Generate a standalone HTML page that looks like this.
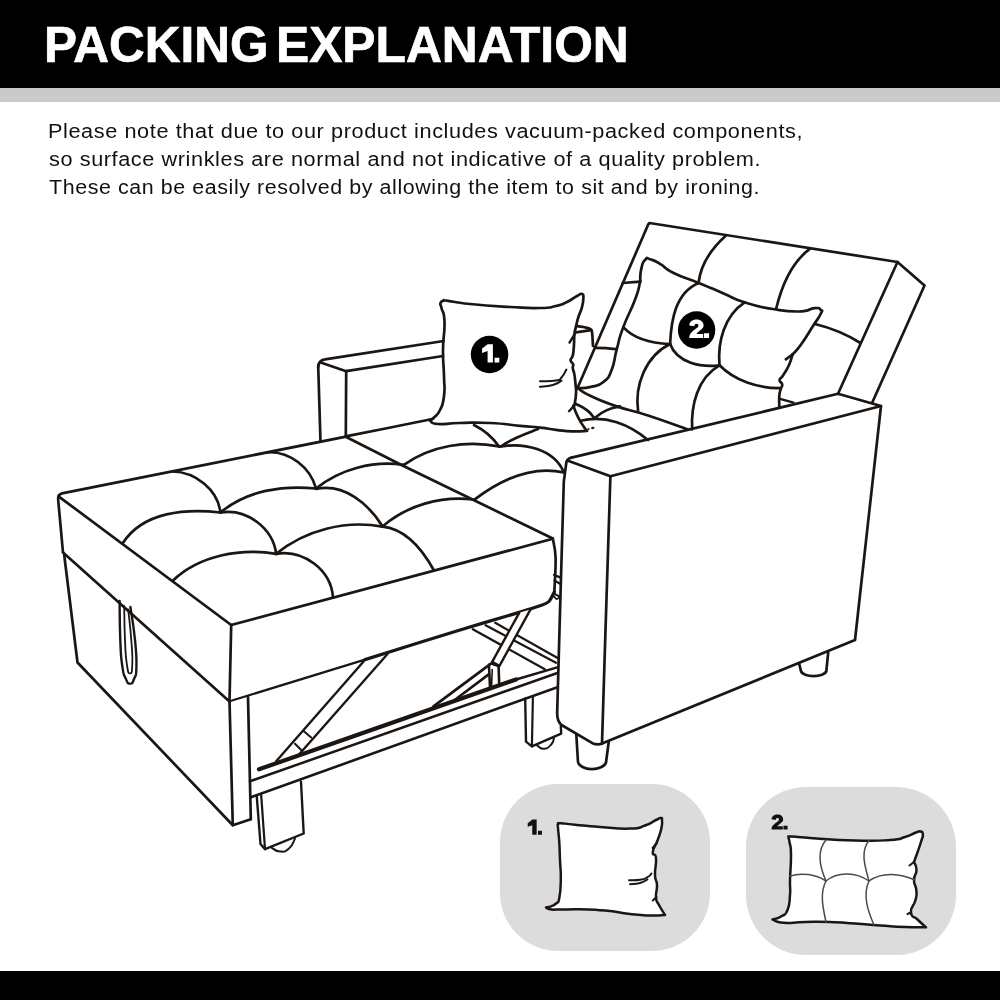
<!DOCTYPE html>
<html><head><meta charset="utf-8"><title>Packing Explanation</title>
<style>
html,body{margin:0;padding:0;background:#fff;}
body{width:1000px;height:1000px;position:relative;overflow:hidden;font-family:"Liberation Sans",sans-serif;}
.hdr{position:absolute;left:0;top:0;width:1000px;height:88px;background:#000;}
.gry{position:absolute;left:0;top:88px;width:1000px;height:14px;background:#cacaca;}
.ftr{position:absolute;left:0;top:971px;width:1000px;height:29px;background:#000;}
.title{position:absolute;left:44.2px;top:18.15px;margin:0;color:#fff;font-weight:bold;font-size:49.2px;line-height:54px;white-space:nowrap;letter-spacing:0;transform-origin:0 0;transform:scaleX(1.018);-webkit-text-stroke:0.7px #fff;}
.txt{position:absolute;left:48.5px;margin:0;color:#111;font-size:20px;line-height:28px;white-space:nowrap;letter-spacing:0.55px;transform-origin:0 0;will-change:transform;}
svg{position:absolute;left:0;top:0;}
.lbl{font-family:"Liberation Sans",sans-serif;font-weight:bold;}
</style></head><body>
<div class="hdr"></div><div class="gry"></div>
<h1 class="title" id="title" style="transform:scaleX(1.0058)">PACKING</h1><h1 class="title" id="title2" style="left:275.5px;transform:scaleX(1.0112)">EXPLANATION</h1>
<p class="txt" id="l1" style="top:117px;left:48px;transform:scaleX(1.0838)">Please note that due to our product includes vacuum-packed components,</p>
<p class="txt" id="l2" style="top:145.4px;transform:scaleX(1.0836)">so surface wrinkles are normal and not indicative of a quality problem.</p>
<p class="txt" id="l3" style="top:173.4px;transform:scaleX(1.0703)">These can be easily resolved by allowing the item to sit and by ironing.</p>
<svg width="1000" height="1000" viewBox="0 0 1000 1000" stroke-linecap="round" stroke-linejoin="round">
<rect x="500" y="784" width="210" height="167" rx="58" ry="58" fill="#dcdcdc"/>
<rect x="746" y="787" width="210" height="168" rx="60" ry="60" fill="#dcdcdc"/>
<path d="M577.5,388.0 L648.2,224.5 L649.5,223.0 L897.5,262.0 L924.5,285.5 L872.5,402.0" fill="none" stroke="#1c1613" stroke-width="2.7" />
<path d="M897.5,262.0 L838.0,393.8" fill="none" stroke="#1c1613" stroke-width="2.7" />
<path d="M725.5,236.0 C712.2,248.0 701.0,263.8 698.7,282.0" fill="none" stroke="#1c1613" stroke-width="2.7" />
<path d="M809.5,249.2 C790.5,263.4 781.6,286.4 776.2,308.5" fill="none" stroke="#1c1613" stroke-width="2.7" />
<path d="M815.0,324.0 C831.0,327.9 846.5,334.2 860.5,343.0" fill="none" stroke="#1c1613" stroke-width="2.7" />
<path d="M622.8,283.0 L640.2,281.6" fill="none" stroke="#1c1613" stroke-width="2.7" />
<path d="M595.0,347.9 C596.8,347.9 602.4,348.0 606.0,348.2 C609.6,348.4 615.0,349.0 616.8,349.2" fill="none" stroke="#1c1613" stroke-width="2.7" />
<path d="M571.5,457.6 L838.0,393.8 L881.0,406.0 L610.4,476.3" fill="none" stroke="#1c1613" stroke-width="2.7" />
<path d="M567.4,460.6 L610.4,476.3" fill="none" stroke="#1c1613" stroke-width="2.7" />
<path d="M571.5,457.6 Q566.6,458.6 566.2,463.5 L563.75,482 L563.8,482.0 C563.0,506.7 560.6,591.7 559.5,630.0 C558.4,668.3 557.6,698.3 557.2,712.0 Q556.8,721 561.5,725 L592.4,743.2 Q597,745 602,743.8" fill="none" stroke="#1c1613" stroke-width="2.7" />
<path d="M610.4,476.3 L605.5,630.0 L602.0,743.5" fill="none" stroke="#1c1613" stroke-width="2.7" />
<path d="M602.0,743.6 L855.0,640.0 L881.0,406.0" fill="none" stroke="#1c1613" stroke-width="2.7" />
<path d="M576.3,734.5 L578,762 A14.2,8.2 0 0 0 606,762.5 L608.8,741.5" fill="none" stroke="#1c1613" stroke-width="2.7" />
<path d="M799.2,663.8 L801,671.3 A12.8,5.6 0 0 0 826.3,671.3 L828.2,652.3" fill="none" stroke="#1c1613" stroke-width="2.7" />
<path d="M318.2,367 Q318.3,360.5 325,359.3 L443.6,341" fill="none" stroke="#1c1613" stroke-width="2.7" />
<path d="M320.0,362.3 L346.2,371.2 L443.0,356.0" fill="none" stroke="#1c1613" stroke-width="2.7" />
<path d="M318.2,366.0 L320.5,441.5" fill="none" stroke="#1c1613" stroke-width="2.7" />
<path d="M346.2,371.2 L345.8,436.4" fill="none" stroke="#1c1613" stroke-width="2.7" />
<path d="M345.8,436.4 C353.9,434.8 418.8,421.8 427.5,420.0 C436.2,418.2 432.0,418.9 432.5,418.8" fill="none" stroke="#1c1613" stroke-width="2.7" />
<path d="M576.0,326.0 C578.0,326.3 583.1,327.0 586.0,327.6 C588.9,328.2 589.3,328.3 590.5,329.2 C591.7,330.1 591.5,328.6 592.0,332.0 C592.5,335.4 592.8,343.2 593.0,346.0" fill="none" stroke="#1c1613" stroke-width="2.7" />
<path d="M576.0,332.4 L591.0,330.2" fill="none" stroke="#1c1613" stroke-width="2.7" />
<path d="M63,552.5 L58.2,500 Q57.6,494.6 62,493.4 L346,436.6" fill="none" stroke="#1c1613" stroke-width="2.7" />
<path d="M346.2,437.0 L402.5,465.5 L472.5,499.5 L552.8,538.5" fill="none" stroke="#1c1613" stroke-width="2.7" />
<path d="M58.5,496.3 L231.2,625.0 L552.8,538.8" fill="none" stroke="#1c1613" stroke-width="2.7" />
<path d="M63.0,552.5 L229.5,701.4" fill="none" stroke="#1c1613" stroke-width="2.7" />
<path d="M231.2,625.0 L229.5,701.4" fill="none" stroke="#1c1613" stroke-width="2.7" />
<path d="M229.5,701.3 L365.0,659.6" fill="none" stroke="#1c1613" stroke-width="2.2" />
<path d="M365.0,659.6 C376.1,656.1 442.0,635.5 460.0,630.0 C478.0,624.5 509.9,615.2 519.2,612.4 C528.5,609.6 536.5,607.1 540.0,605.8 C543.5,604.5 547.3,602.9 549.0,601.3 C550.7,599.7 553.7,593.1 554.3,592.0" fill="none" stroke="#1c1613" stroke-width="3.2" />
<path d="M552.8,538.6 C553.4,542.5 555.3,547.3 555.6,558.0 C555.9,568.7 554.6,585.2 554.3,592.0" fill="none" stroke="#1c1613" stroke-width="2.7" />
<path d="M172.5,471.5 C195.2,472.0 217.7,489.2 220.5,512.5" fill="none" stroke="#1c1613" stroke-width="2.7" />
<path d="M122.5,543.5 C143.1,511.1 186.7,508.5 220.5,512.5" fill="none" stroke="#1c1613" stroke-width="2.7" />
<path d="M220.5,512.5 C246.8,490.3 282.8,485.2 316.0,488.5" fill="none" stroke="#1c1613" stroke-width="2.7" />
<path d="M220.5,512.5 C246.4,508.0 272.8,528.0 276.2,553.8" fill="none" stroke="#1c1613" stroke-width="2.7" />
<path d="M172.5,581.0 C199.5,555.0 240.4,548.2 276.2,553.8" fill="none" stroke="#1c1613" stroke-width="2.7" />
<path d="M276.2,553.8 C305.4,529.8 345.5,519.9 382.5,526.6" fill="none" stroke="#1c1613" stroke-width="2.7" />
<path d="M276.2,553.8 C303.2,549.1 331.2,569.8 333.0,597.5" fill="none" stroke="#1c1613" stroke-width="2.7" />
<path d="M268.0,452.3 C290.2,451.5 310.5,467.7 316.0,488.5" fill="none" stroke="#1c1613" stroke-width="2.7" />
<path d="M316.0,488.5 C340.2,469.0 372.7,460.4 403.5,464.8" fill="none" stroke="#1c1613" stroke-width="2.7" />
<path d="M316.0,489.0 C344.6,483.1 368.7,504.2 382.5,526.3" fill="none" stroke="#1c1613" stroke-width="2.7" />
<path d="M382.5,526.5 C407.0,505.2 440.9,495.9 473.0,499.5" fill="none" stroke="#1c1613" stroke-width="2.7" />
<path d="M382.5,526.6 C407.3,529.1 423.1,550.6 434.0,570.5" fill="none" stroke="#1c1613" stroke-width="2.7" />
<path d="M403.8,464.8 C431.1,445.5 466.4,440.0 499.0,446.4" fill="none" stroke="#1c1613" stroke-width="2.7" />
<path d="M474.0,425.0 C483.9,430.0 492.8,437.3 499.0,446.5" fill="none" stroke="#1c1613" stroke-width="2.7" />
<path d="M500.5,446.5 C505.7,443.7 503.5,443.8 516.0,438.0 C528.5,432.2 530.7,432.0 538.0,429.0" fill="none" stroke="#1c1613" stroke-width="2.7" />
<path d="M501.0,446.5 C523.6,442.5 553.8,448.7 563.7,472.0" fill="none" stroke="#1c1613" stroke-width="2.7" />
<path d="M474.4,499.6 C499.4,480.6 531.5,465.2 563.7,472.4" fill="none" stroke="#1c1613" stroke-width="2.7" />
<path d="M576.0,404.0 C579.7,406.1 581.1,405.6 587.2,410.4 C593.3,415.2 592.0,415.7 594.4,418.4" fill="none" stroke="#1c1613" stroke-width="2.7" />
<path d="M594.4,418.4 C598.4,415.7 597.9,414.4 606.4,410.4 C614.9,406.4 615.5,407.7 620.0,406.4" fill="none" stroke="#1c1613" stroke-width="2.7" />
<path d="M580.8,420.8 C605.0,414.4 629.8,424.6 648.0,440.0" fill="none" stroke="#1c1613" stroke-width="2.7" />
<path d="M64.2,555.0 L77.5,662.5 L232.8,825.2 L250.8,819.2" fill="none" stroke="#1c1613" stroke-width="2.7" />
<path d="M229.5,701.2 L232.8,825.2" fill="none" stroke="#1c1613" stroke-width="2.7" />
<path d="M248.0,697.0 L250.8,819.2" fill="none" stroke="#1c1613" stroke-width="2.7" />
<path d="M119.6,601.0 C119.8,612.7 119.5,620.5 120.3,640.0 C121.1,659.5 120.7,654.6 122.3,666.0 C123.9,677.4 123.2,672.7 125.5,678.0 C127.8,683.3 127.4,683.5 130.0,683.6 C132.6,683.8 132.3,683.5 134.2,678.5 C136.1,673.5 136.2,678.5 136.4,667.0 C136.6,655.5 136.8,658.0 135.0,640.0 C133.2,622.0 131.8,616.9 130.4,607.0" fill="none" stroke="#1c1613" stroke-width="2.4" />
<path d="M124.2,606.0 C124.4,616.2 124.2,622.6 125.0,640.0 C125.8,657.4 125.3,654.0 126.8,664.0 C128.3,674.0 128.3,673.3 130.0,673.3 C131.7,673.3 131.9,674.0 132.3,664.0 C132.7,654.0 132.5,656.4 131.3,640.0 C130.1,623.6 129.1,618.6 128.2,609.5" fill="none" stroke="#1c1613" stroke-width="1.8" />
<path d="M640.2,281.6 C640.5,277.7 639.7,275.2 641.3,268.6 C642.9,262.0 642.8,262.3 645.4,259.5 C648.0,256.7 645.6,258.0 650.0,259.3 C654.4,260.6 652.9,259.6 660.0,263.8 C667.1,267.9 662.0,267.3 673.6,273.0 C685.2,278.7 684.0,276.9 698.7,282.9 C713.4,288.9 708.7,287.1 722.5,293.0 C736.3,298.9 729.6,297.6 744.7,302.4 C759.8,307.2 756.6,306.3 772.8,309.0 C789.0,311.7 786.3,311.7 798.8,311.5 C811.3,311.3 807.9,308.7 814.4,308.2 C820.9,307.7 818.7,308.1 820.6,309.8 C822.5,311.5 822.9,309.1 820.6,314.0 C818.3,318.9 818.8,317.0 813.0,326.0 C807.2,335.0 807.5,335.4 801.4,344.0 C795.2,352.6 795.2,351.4 792.5,354.5" fill="none" stroke="#1c1613" stroke-width="2.7" />
<path d="M792.5,354.5 C791.5,357.6 791.8,358.8 789.0,365.0 C786.2,371.2 786.0,370.6 783.2,375.2 C780.4,379.8 779.9,377.5 779.6,380.2 C779.3,382.9 781.9,381.5 782.2,384.3 C782.5,387.1 781.5,386.0 780.6,389.5 C779.7,393.0 779.7,390.9 779.3,396.0 C778.9,401.1 779.3,403.4 779.3,406.6" fill="none" stroke="#1c1613" stroke-width="2.7" />
<path d="M792.5,354.5 L785.8,359.3" fill="none" stroke="#1c1613" stroke-width="2.7" />
<path d="M640.2,281.6 C638.6,287.1 640.1,286.2 635.0,299.8 C629.9,313.4 628.8,312.3 623.3,327.1 C617.8,341.9 620.3,336.3 616.8,349.2 C613.3,362.1 615.5,360.2 611.6,370.0 C607.7,379.8 610.0,376.6 603.8,381.7 C597.6,386.8 598.6,384.9 590.8,386.9 C583.0,388.8 581.7,387.8 577.8,388.2" fill="none" stroke="#1c1613" stroke-width="2.7" />
<path d="M577.8,388.2 C581.3,390.3 580.4,391.1 590.8,396.0 C601.2,400.9 601.5,401.2 616.8,406.4 C632.1,411.6 629.0,409.3 648.0,415.5 C667.0,421.7 677.3,425.8 688.0,429.5" fill="none" stroke="#1c1613" stroke-width="2.7" />
<path d="M623.3,327.1 C635.1,340.3 653.4,343.3 670.1,344.0" fill="none" stroke="#1c1613" stroke-width="2.7" />
<path d="M670.1,344.0 C677.2,363.4 701.5,367.4 719.5,365.3" fill="none" stroke="#1c1613" stroke-width="2.7" />
<path d="M719.5,365.3 C735.1,381.0 757.6,388.1 779.3,388.2" fill="none" stroke="#1c1613" stroke-width="2.7" />
<path d="M698.7,282.9 C674.8,292.9 671.1,321.5 670.1,344.0" fill="none" stroke="#1c1613" stroke-width="2.7" />
<path d="M744.7,302.4 C724.2,315.8 717.4,342.2 719.5,365.3" fill="none" stroke="#1c1613" stroke-width="2.7" />
<path d="M670.1,344.0 C645.5,355.9 634.4,385.7 638.1,411.5" fill="none" stroke="#1c1613" stroke-width="2.7" />
<path d="M719.5,365.3 C697.3,377.9 690.8,405.7 692.2,429.3" fill="none" stroke="#1c1613" stroke-width="2.7" />
<circle cx="696.6" cy="330" r="18.7" fill="#000"/>
<path d="M430.0,420.5 C431.2,419.6 431.0,420.6 434.0,417.5 C437.0,414.4 437.0,416.4 440.0,410.0 C443.0,403.6 442.8,406.2 444.0,396.0 C445.2,385.8 444.3,389.8 444.0,376.0 C443.7,362.2 442.9,366.2 443.0,350.0 C443.1,333.8 444.9,334.6 444.5,322.0 C444.1,309.4 442.7,313.6 441.5,308.0 C440.3,302.4 439.9,305.4 440.5,303.2 C441.1,301.0 441.2,301.5 443.5,300.8 C445.8,300.1 440.1,299.8 448.0,300.8 C455.9,301.8 451.4,302.1 470.0,304.0 C488.6,305.9 489.0,305.8 510.0,307.0 C531.0,308.2 526.2,308.3 540.0,308.0 C553.8,307.7 547.9,307.8 556.0,306.0 C564.1,304.2 560.7,305.0 567.0,302.0 C573.3,299.0 572.5,298.4 577.0,296.0 C581.5,293.6 580.0,293.5 581.9,294.0 C583.8,294.5 583.4,293.8 583.4,297.8 C583.4,301.8 583.4,301.6 581.9,307.4 C580.4,313.2 580.2,311.2 578.4,317.0 C576.6,322.8 577.2,321.3 576.0,326.6 C574.8,331.9 575.0,328.8 574.4,334.6 C573.8,340.4 574.4,339.6 573.9,345.8 C573.4,352.0 573.8,351.1 572.8,355.4 C571.8,359.7 570.5,357.6 570.6,360.2 C570.7,362.8 572.4,361.8 573.1,364.2 C573.8,366.6 572.4,365.1 572.8,368.2 C573.2,371.3 573.6,369.8 574.4,374.6 C575.2,379.4 575.0,378.4 575.5,384.2 C576.0,390.0 576.3,387.6 576.0,393.8 C575.7,400.0 575.1,401.0 574.4,405.0 C573.7,409.0 572.6,403.2 573.8,407.0 C575.0,410.8 575.1,411.4 578.4,417.8 C581.7,424.2 582.2,424.4 584.8,428.2 C587.4,432.0 586.3,429.9 587.0,430.6" fill="none" stroke="#1c1613" stroke-width="2.7" />
<path d="M574.4,334.6 L569.5,342.6" fill="none" stroke="#1c1613" stroke-width="2.4" />
<path d="M574.2,405.6 L569.0,411.2" fill="none" stroke="#1c1613" stroke-width="2.4" />
<path d="M587.0,430.8 C582.5,431.0 581.3,431.7 572.0,431.4 C562.7,431.1 565.6,430.9 556.0,429.8 C546.4,428.7 550.8,428.8 540.0,427.6 C529.2,426.4 535.0,427.2 520.0,425.8 C505.0,424.4 508.0,423.8 490.0,423.0 C472.0,422.2 475.6,422.7 460.0,423.0 C444.4,423.3 447.0,424.8 438.0,424.0 C429.0,423.2 432.4,421.6 430.0,420.5" fill="none" stroke="#1c1613" stroke-width="2.7" />
<path d="M540.0,381.2 C544.8,381.0 549.5,381.6 556.0,380.5 C562.5,379.4 558.4,380.8 561.5,377.5 C564.6,374.2 564.9,371.9 566.4,369.5" fill="none" stroke="#1c1613" stroke-width="2.0" />
<path d="M540.0,386.8 C543.8,386.3 546.3,386.8 552.8,385.0 C559.3,383.2 559.0,382.0 561.6,380.7" fill="none" stroke="#1c1613" stroke-width="2.0" />
<path d="M588.4,429.0 L588.8,428.9" fill="none" stroke="#1c1613" stroke-width="1.6" />
<path d="M592.2,428.1 L593.4,427.8" fill="none" stroke="#1c1613" stroke-width="2.2" />
<circle cx="489.55" cy="354.55" r="18.75" fill="#000"/>
<path d="M472.8,629.2 L544.8,669.2" fill="none" stroke="#1c1613" stroke-width="2.2" />
<path d="M485.6,625.2 L556.0,662.8" fill="none" stroke="#1c1613" stroke-width="2.2" />
<path d="M495.2,622.8 L557.6,658.0" fill="none" stroke="#1c1613" stroke-width="2.2" />
<path d="M519.2,612.8 L491.2,663.6 L499.2,666.4 L530.4,609.6" fill="#fff" stroke="#1c1613" stroke-width="2.4" />
<path d="M259.0,769.3 L516.0,679.5" fill="none" stroke="#1c1613" stroke-width="4.2" />
<path d="M516.0,679.5 L557.2,667.4" fill="none" stroke="#1c1613" stroke-width="2.4" />
<path d="M250.0,781.3 L557.4,673.0" fill="none" stroke="#1c1613" stroke-width="2.5" />
<path d="M251.0,797.2 L557.4,687.2" fill="none" stroke="#1c1613" stroke-width="2.6" />
<path d="M276.2,761.2 L363.8,661.2" fill="none" stroke="#1c1613" stroke-width="2.4" />
<path d="M297.5,756.2 L387.5,654.0" fill="none" stroke="#1c1613" stroke-width="2.4" />
<path d="M303.8,731.2 L311.2,737.5" fill="none" stroke="#1c1613" stroke-width="2.0" />
<path d="M295.0,743.8 L301.2,750.0" fill="none" stroke="#1c1613" stroke-width="2.0" />
<path d="M489.0,666.0 L490.0,687.0" fill="none" stroke="#1c1613" stroke-width="2.6" />
<path d="M498.6,667.0 L499.2,683.8" fill="none" stroke="#1c1613" stroke-width="2.6" />
<path d="M492.2,669.5 L491.6,686.2" fill="none" stroke="#1c1613" stroke-width="1.6" />
<path d="M489.0,664.5 L493.5,662.6 L499.0,665.5" fill="none" stroke="#1c1613" stroke-width="2.4" />
<path d="M489.6,664.6 L433.5,706.4" fill="none" stroke="#1c1613" stroke-width="2.8" />
<path d="M488.4,674.6 L453.0,701.2" fill="none" stroke="#1c1613" stroke-width="2.6" />
<path d="M256.8,796.8 L260.5,844.0 L265.0,849.2 L303.7,833.5 L301.0,781.8" fill="none" stroke="#1c1613" stroke-width="2.4" />
<path d="M261.2,795.2 L265.0,849.2" fill="none" stroke="#1c1613" stroke-width="2.2" />
<path d="M271.8,847.8 C274.2,848.9 274.8,851.3 280.0,851.5 C285.2,851.7 284.5,852.3 289.0,848.5 C293.5,844.7 293.2,841.7 295.0,838.8" fill="none" stroke="#1c1613" stroke-width="2.0" />
<path d="M525.2,698.4 L526.0,741.6 L531.9,746.4 L561.2,733.6 L560.8,726.0" fill="none" stroke="#1c1613" stroke-width="2.4" />
<path d="M532.9,697.6 L531.9,746.4" fill="none" stroke="#1c1613" stroke-width="2.2" />
<path d="M537.2,745.6 C539.4,746.6 540.1,749.3 544.4,748.8 C548.7,748.3 548.7,747.4 551.6,744.0 C554.5,740.6 553.3,739.5 554.0,737.6" fill="none" stroke="#1c1613" stroke-width="2.0" />
<path d="M554.0,575.0 L560.2,577.4" fill="none" stroke="#1c1613" stroke-width="2.2" />
<path d="M554.4,580.4 L560.0,583.7" fill="none" stroke="#1c1613" stroke-width="2.2" />
<path d="M553.6,593.4 L559.6,596.6" fill="none" stroke="#1c1613" stroke-width="2.2" />
<path d="M554.0,596.5 C554.4,596.9 555.6,598.8 556.5,599.0 C557.4,599.2 558.9,597.8 559.4,597.5" fill="none" stroke="#1c1613" stroke-width="1.8" />
<path d="M546.0,907.5 C547.5,907.1 548.0,907.5 551.0,906.3 C554.0,905.1 553.5,906.0 556.0,903.5 C558.5,901.0 557.9,905.0 559.3,898.0 C560.7,891.0 560.6,891.4 560.8,880.0 C561.0,868.6 560.5,871.2 560.0,860.0 C559.5,848.8 559.9,852.1 559.3,842.5 C558.7,832.9 558.3,833.5 558.0,828.0 C557.7,822.5 557.3,825.7 558.2,824.3 C559.1,822.9 556.0,823.1 561.0,823.2 C566.0,823.4 563.3,823.7 575.0,824.8 C586.7,825.9 583.5,825.9 600.0,827.0 C616.5,828.1 616.5,829.1 630.0,828.6 C643.5,828.1 637.2,828.1 645.0,825.5 C652.8,822.9 651.4,822.2 656.0,820.0 C660.6,817.8 658.7,817.9 660.5,818.0 C662.3,818.1 661.9,816.9 662.0,820.5 C662.1,824.1 662.6,823.2 661.0,830.0 C659.4,836.8 657.9,839.1 656.5,843.0L656.5,843.0 C655.4,845.9 652.9,848.0 652.8,852.5 C652.6,857.0 655.3,851.2 656.0,858.0 C656.7,864.8 654.7,866.9 655.0,875.0 C655.3,883.1 656.7,878.2 657.0,885.0 C657.3,891.8 655.4,891.5 656.0,897.5 C656.6,903.5 656.3,899.8 659.0,905.0 C661.7,910.2 663.2,912.0 665.0,915.0L665.0,915.0 C660.5,915.1 660.5,915.8 650.0,915.5 C639.5,915.2 643.5,915.5 630.0,914.0 C616.5,912.5 620.0,911.9 605.0,910.5 C590.0,909.1 593.5,909.6 580.0,909.3 C566.5,909.0 569.0,909.6 560.0,909.6 C551.0,909.6 554.2,909.8 550.0,909.2 C545.8,908.6 547.2,908.0 546.0,907.5Z" fill="#fff" stroke="#1c1613" stroke-width="2.5" />
<path d="M656.5,843.5 L652.6,848.0" fill="none" stroke="#1c1613" stroke-width="2.0" />
<path d="M656.5,897.0 L652.8,900.5" fill="none" stroke="#1c1613" stroke-width="2.0" />
<path d="M629.0,880.3 C632.3,880.1 634.5,880.7 640.0,879.8 C645.5,878.9 644.0,879.1 647.5,877.2 C651.0,875.3 650.3,874.6 651.5,873.5" fill="none" stroke="#1c1613" stroke-width="1.9" />
<path d="M630.0,884.2 C633.0,883.8 634.8,884.4 640.0,883.0 C645.2,881.6 645.2,880.5 647.5,879.4" fill="none" stroke="#1c1613" stroke-width="1.9" />
<path d="M772.5,919.5 C775.0,918.6 776.5,919.4 781.0,916.5 C785.5,913.6 784.8,916.5 787.5,910.0 C790.2,903.5 789.2,904.0 790.0,895.0 C790.8,886.0 789.7,892.0 790.0,880.0 C790.3,868.0 791.1,866.4 791.0,855.0 C790.9,843.6 790.2,847.2 789.5,842.0 C788.8,836.8 788.0,839.1 788.8,837.5 C789.5,835.9 785.6,836.5 792.0,836.6 C798.4,836.8 791.1,836.8 810.0,838.0 C828.9,839.2 831.0,839.9 855.0,840.5 C879.0,841.1 875.0,841.0 890.0,840.0 C905.0,839.0 897.2,839.2 905.0,837.0 C912.8,834.8 911.4,834.1 916.0,832.5 C920.6,830.9 918.5,831.0 920.5,831.5 C922.5,832.0 922.6,830.9 922.8,834.0 C922.9,837.1 923.6,833.6 921.0,842.0 C918.4,850.4 916.1,856.0 914.0,862.0L914.0,862.0 C914.8,864.4 916.5,864.6 916.5,870.0 C916.5,875.4 914.1,874.0 914.0,880.0 C913.9,886.0 915.8,884.0 916.3,890.0 C916.8,896.0 917.1,893.2 915.5,900.0 C913.9,906.8 910.2,906.5 911.0,912.5 C911.8,918.5 913.5,915.6 918.0,920.0 C922.5,924.4 923.6,925.1 926.0,927.3L926.0,927.3 C919.7,927.2 918.8,927.5 905.0,927.0 C891.2,926.5 895.0,926.5 880.0,925.5 C865.0,924.5 870.0,924.5 855.0,923.5 C840.0,922.5 845.0,922.5 830.0,922.0 C815.0,921.5 818.8,921.8 805.0,922.0 C791.2,922.2 793.8,923.5 784.0,922.8 C774.2,922.0 776.0,920.5 772.5,919.5Z" fill="#fff" stroke="#1c1613" stroke-width="2.5" />
<path d="M914.0,862.0 L909.5,865.5" fill="none" stroke="#1c1613" stroke-width="2.0" />
<path d="M911.0,912.5 L907.5,914.0" fill="none" stroke="#1c1613" stroke-width="2.0" />
<path d="M790.0,876.0 C801.9,872.2 815.5,874.4 826.0,881.0" fill="none" stroke="#4a4a4a" stroke-width="1.5" />
<path d="M826.0,881.0 C838.1,870.9 856.6,872.4 869.0,881.0" fill="none" stroke="#4a4a4a" stroke-width="1.5" />
<path d="M869.0,881.0 C882.5,871.2 900.7,873.7 915.0,880.0" fill="none" stroke="#4a4a4a" stroke-width="1.5" />
<path d="M826.0,840.0 C816.0,851.7 820.4,868.4 826.0,881.0" fill="none" stroke="#4a4a4a" stroke-width="1.5" />
<path d="M826.0,881.0 C819.4,893.7 823.2,908.8 826.0,922.0" fill="none" stroke="#4a4a4a" stroke-width="1.5" />
<path d="M869.0,840.5 C859.6,852.3 865.6,868.2 869.0,881.0" fill="none" stroke="#4a4a4a" stroke-width="1.5" />
<path d="M869.0,881.0 C862.2,895.3 868.2,911.5 874.0,925.0" fill="none" stroke="#4a4a4a" stroke-width="1.5" />
<path d="M780.0,398.8 L793.5,402.6" fill="none" stroke="#1c1613" stroke-width="2.4" />
<path d="M0,0 L13.9,0 L13.9,-4.1 L7,-4.1 C8.7,-5.8 11,-7.6 12.5,-9 C13.7,-10.1 14.4,-11.2 14.3,-12.8 C14.2,-16.1 11.5,-18.6 7.3,-18.6 C2.9,-18.6 0.2,-16.3 0,-12.7 L5.1,-11.9 C5.2,-13.5 5.9,-14.3 7.3,-14.3 C8.5,-14.3 9.1,-13.5 9.1,-12.5 C9.1,-11.4 8.4,-10.7 7.5,-10 C5.2,-8.3 2.9,-6.5 1.3,-4.7 C0.4,-3.6 0,-2.5 0,-1.3 Z M14.7,0 L19.8,0 L19.8,-4.8 L14.7,-4.8 Z" transform="translate(689.3,338.1) scale(1.0)" fill="#fff" stroke="none"/>
<path d="M10.8,-18.3 L5.6,-18.3 L0,-14 L0,-9.6 L5.5,-11.6 L5.5,0 L10.8,0 Z M12.4,0 L17.2,0 L17.2,-4.8 L12.4,-4.8 Z" transform="translate(482.1,362.5) scale(1.0)" fill="#fff" stroke="none"/>
<path d="M10.8,-18.3 L5.6,-18.3 L0,-14 L0,-9.6 L5.5,-11.6 L5.5,0 L10.8,0 Z M12.4,0 L17.2,0 L17.2,-4.8 L12.4,-4.8 Z" transform="translate(527.7,834.8) scale(0.83)" fill="#111" stroke="none"/>
<path d="M0,0 L13.9,0 L13.9,-4.1 L7,-4.1 C8.7,-5.8 11,-7.6 12.5,-9 C13.7,-10.1 14.4,-11.2 14.3,-12.8 C14.2,-16.1 11.5,-18.6 7.3,-18.6 C2.9,-18.6 0.2,-16.3 0,-12.7 L5.1,-11.9 C5.2,-13.5 5.9,-14.3 7.3,-14.3 C8.5,-14.3 9.1,-13.5 9.1,-12.5 C9.1,-11.4 8.4,-10.7 7.5,-10 C5.2,-8.3 2.9,-6.5 1.3,-4.7 C0.4,-3.6 0,-2.5 0,-1.3 Z M14.7,0 L19.8,0 L19.8,-4.8 L14.7,-4.8 Z" transform="translate(771.6,829.6) scale(0.806)" fill="#111" stroke="none"/>
</svg>
<div class="ftr"></div>
</body></html>
